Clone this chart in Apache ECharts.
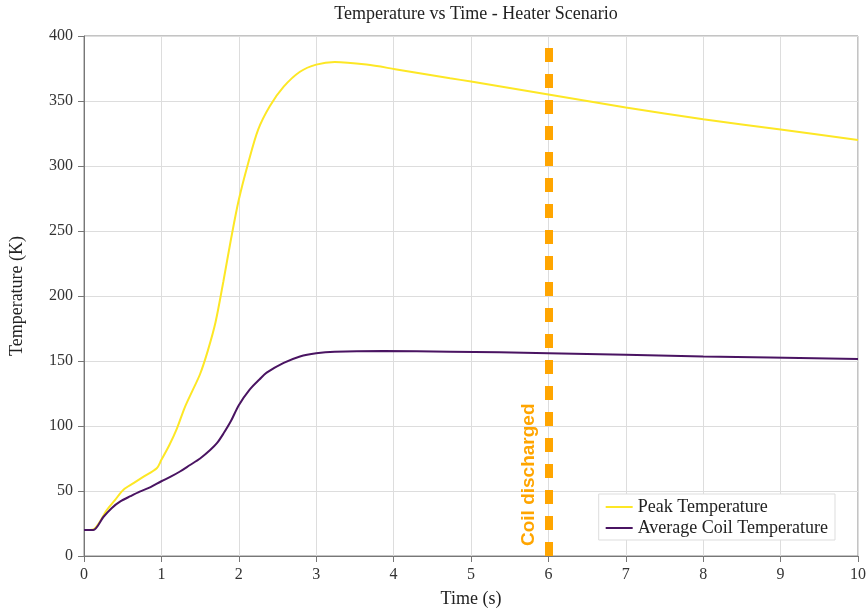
<!DOCTYPE html>
<html>
<head>
<meta charset="utf-8">
<script src="https://cdn.jsdelivr.net/npm/echarts@6/dist/echarts.min.js"></script>
<style>
  html, body { margin: 0; padding: 0; background: #fff; }
  #chart { width: 866px; height: 611px; }
</style>
</head>
<body>
<div id="chart"></div>
<script>
// time samples (s)
const peakTime = [0, 0.12, 0.2, 0.29, 0.4, 0.51, 0.64, 0.77, 0.94, 1.0, 1.1, 1.2, 1.3, 1.4, 1.5, 1.6, 1.7, 1.8, 1.9, 2.0, 2.12, 2.25, 2.4, 2.58, 2.79, 3.0, 3.24, 3.65, 4.02, 4.73, 5.0, 6.0, 7.0, 8.0, 9.0, 10.0]
const peakTemp = [20, 20.5, 26, 35, 43, 51, 56, 61, 67.5, 74, 85, 98, 114, 127, 140, 158, 180, 211, 244, 274, 302, 328, 346, 361, 372.5, 378, 380, 378, 374.5, 367.5, 365, 355, 345, 336, 328, 320]

const avgTime = [0, 0.12, 0.25, 0.36, 0.47, 0.6, 0.72, 0.86, 1.0, 1.12, 1.24, 1.37, 1.5, 1.63, 1.72, 1.8, 1.9, 2.0, 2.14, 2.27, 2.36, 2.58, 2.79, 3.0, 3.24, 3.87, 4.73, 6.0, 8.0, 10.0]
const avgTemp = [20, 20, 30, 37, 42, 46, 49.5, 53, 57.5, 61, 65, 70, 75, 81.5, 87, 94, 104, 116, 128, 136, 141, 148.5, 153.5, 156, 157.2, 157.7, 157.2, 156, 153.5, 151.5]

const dischargeTime = 6
const xTicks = [0, 1, 2, 3, 4, 5, 6, 7, 8, 9, 10]
const yTicks = [0, 50, 100, 150, 200, 250, 300, 350, 400]

const serif = 'Liberation Serif, DejaVu Serif, serif'
const chart = echarts.init(document.getElementById('chart'))

chart.setOption({
  animation: false,
  title: {
    text: 'Temperature vs Time - Heater Scenario',
    left: 471,
    textAlign: 'center',
    top: 0,
    textStyle: { fontFamily: serif, fontSize: 18, fontWeight: 'normal', color: '#222' },
  },
  grid: {
    left: 84,
    right: 8,
    top: 36,
    bottom: 55,
    outerBoundsMode: 'none',
    show: true,
    borderColor: '#888',
    borderWidth: 1,
  },
  legend: {
    orient: 'vertical',
    right: 31,
    bottom: 71,
    itemWidth: 27,
    itemHeight: 2,
    itemGap: 3,
    padding: [4, 7, 3, 7],
    backgroundColor: '#fff',
    borderColor: '#ddd',
    borderWidth: 1,
    icon: 'rect',
    textStyle: { fontFamily: serif, fontSize: 18, color: '#222' },
    data: ['Peak Temperature', 'Average Coil Temperature'],
  },
  xAxis: {
    type: 'value',
    min: xTicks[0],
    max: xTicks[xTicks.length - 1],
    interval: 1,
    name: 'Time (s)',
    nameLocation: 'middle',
    nameGap: 34,
    nameTextStyle: { fontFamily: serif, fontSize: 18, color: '#222' },
    axisLine: { lineStyle: { color: '#777' } },
    axisTick: { show: true, length: 6, lineStyle: { color: '#777' } },
    axisLabel: { fontFamily: serif, fontSize: 16, color: '#333', margin: 11 },
    splitLine: { show: true, lineStyle: { color: '#ddd' } },
  },
  yAxis: {
    type: 'value',
    min: yTicks[0],
    max: yTicks[yTicks.length - 1],
    interval: 50,
    name: 'Temperature (K)',
    nameLocation: 'middle',
    nameGap: 58,
    nameTextStyle: { fontFamily: serif, fontSize: 18, color: '#222' },
    axisLine: { show: true, lineStyle: { color: '#777' } },
    axisTick: { show: true, length: 6, lineStyle: { color: '#777' } },
    axisLabel: { fontFamily: serif, fontSize: 16, color: '#333', margin: 11 },
    splitLine: { show: true, lineStyle: { color: '#ddd' } },
  },
  series: [
    {
      name: 'Peak Temperature',
      type: 'line',
      data: peakTime.map((t, i) => [t, peakTemp[i]]),
      smooth: 0.3,
      showSymbol: false,
      lineStyle: { color: '#FDE725', width: 2 },
      itemStyle: { color: '#FDE725' },
      markLine: {
        silent: true,
        symbol: ['none', 'none'],
        lineStyle: { color: '#FFA500', width: 8, type: [14, 12] },
        label: {
          show: true,
          formatter: 'Coil discharged',
          position: 'insideStartTop',
          distance: [10, 10],
          color: '#FFA500',
          fontFamily: 'Liberation Sans, DejaVu Sans, sans-serif',
          fontWeight: 'bold',
          fontSize: 19,
        },
        data: [{ xAxis: dischargeTime }],
      },
    },
    {
      name: 'Average Coil Temperature',
      type: 'line',
      data: avgTime.map((t, i) => [t, avgTemp[i]]),
      smooth: 0.3,
      showSymbol: false,
      lineStyle: { color: '#4A1462', width: 2 },
      itemStyle: { color: '#4A1462' },
    },
  ],
})
</script>
</body>
</html>
